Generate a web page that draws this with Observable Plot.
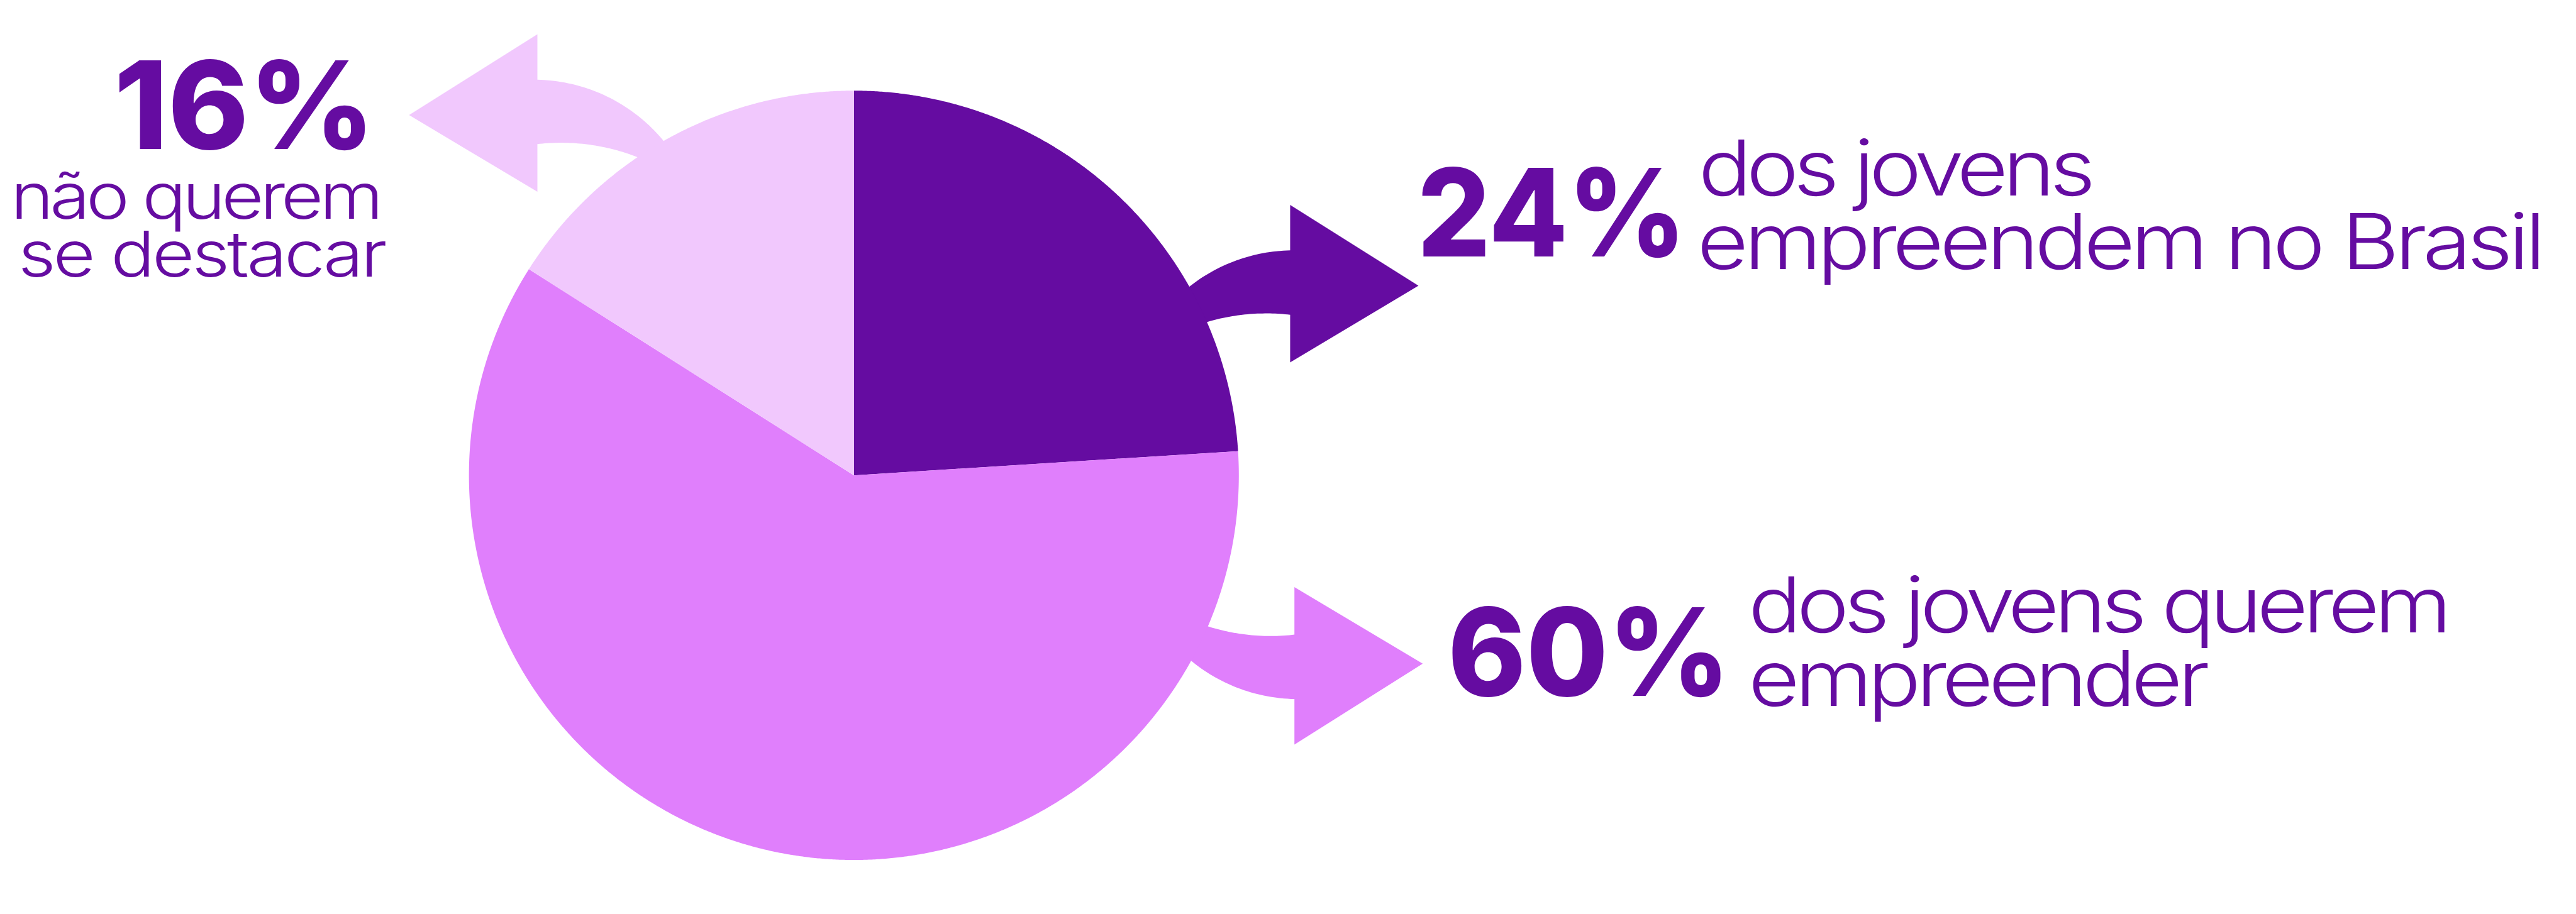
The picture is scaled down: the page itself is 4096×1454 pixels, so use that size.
<!DOCTYPE html>
<html>
<head>
<meta charset="utf-8">
<script src="https://cdn.jsdelivr.net/npm/d3@7"></script>
<script src="https://cdn.jsdelivr.net/npm/@observablehq/plot@0.6"></script>
<style>
  html, body { margin: 0; padding: 0; background: #ffffff; overflow: hidden; }
  #chart svg { display: block; }
</style>
</head>
<body>
<div id="chart"></div>
<script>
// ---------------- DATA ----------------
const categories = ["empreendem", "querem empreender", "não querem se destacar"];
const values = [24, 60, 16];
const percentLabels = ["24%", "60%", "16%"];
const descriptionLines = [
  ["dos jovens", "empreendem no Brasil"],
  ["dos jovens querem", "empreender"],
  ["não querem", "se destacar"]
];

// ---------------- LAYOUT (reference pixel space) ----------------
const REF_W = 4216, REF_H = 1497, W = 4096, H = 1454;
const S = W / REF_W;
const palette = ["#650ca1", "#e07ffc", "#f1c8fd"];
const ink = "#650ca1";
const pieGeom = {cx: 1397, cy: 778, r: 630};
const WIDEN = 1.15;   // glyph widening for the description font (rendered larger, squeezed vertically)

// arrow base (head base centre) relative to pie centre; U = backward direction, V = bend direction
const arrowLayout = [
  {dx: 714, dy: -314, ux: -1, vy: 1},
  {dx: 721, dy: 312, ux: -1, vy: -1},
  {dx: -518, dy: -593.5, ux: 1, vy: 1}
];

const labelLayout = [
  {pct: {x: 2319, y: 420, tl: 440}, size: 126,
   lines: [{x: 2779, y: 320, tl: 650}, {x: 2777, y: 440, tl: 1389}]},
  {pct: {x: 2369, y: 1139, tl: 462}, size: 126,
   lines: [{x: 2861, y: 1035, tl: 1151}, {x: 2861, y: 1156, tl: 755}]},
  {pct: {x: 186, y: 243, tl: 427}, size: 104,
   lines: [{x: 17, y: 358, tl: 610}, {x: 29, y: 453, tl: 604}]}
];
const pctSize = 199;

// ---------------- GEOMETRY ----------------
const slices = d3.pie().sort(null).value(d => d.value)(
  categories.map((c, i) => ({category: c, value: values[i]}))
);

const pieRows = [];
for (const s of slices) {
  const c = s.data.category;
  const n = Math.max(2, Math.ceil((s.endAngle - s.startAngle) / 0.004));
  pieRows.push({category: c, x: pieGeom.cx, y: pieGeom.cy});
  for (let k = 0; k <= n; k++) {
    const a = s.startAngle + (s.endAngle - s.startAngle) * k / n;
    pieRows.push({category: c, x: pieGeom.cx + pieGeom.r * Math.sin(a), y: pieGeom.cy - pieGeom.r * Math.cos(a)});
  }
}

// curved-arrow outline in local (u, v) units
function arrowOutline() {
  const pts = [];
  pts.push([-210, 3.5]);      // tip
  pts.push([0, -129]);        // head corner (outer)
  const oc = {u: -6, v: 221, R: 275.5};
  const t0 = Math.asin((0 - oc.u) / oc.R), t1 = Math.asin((255 - oc.u) / oc.R);
  for (let k = 0; k <= 60; k++) {
    const t = t0 + (t1 - t0) * k / 60;
    pts.push([oc.u + oc.R * Math.sin(t), oc.v - oc.R * Math.cos(t)]);
  }
  const ic = {u: 39, v: 390.4, R: 341.6};
  const s0 = Math.asin((235 - ic.u) / ic.R), s1 = Math.asin((0 - ic.u) / ic.R);
  for (let k = 0; k <= 60; k++) {
    const t = s0 + (s1 - s0) * k / 60;
    pts.push([ic.u + ic.R * Math.sin(t), ic.v - ic.R * Math.cos(t)]);
  }
  pts.push([0, 129]);         // head corner (inner)
  return pts;
}
const outline = arrowOutline();
const arrowRows = [];
categories.forEach((c, i) => {
  const L = arrowLayout[i];
  const bx = pieGeom.cx + L.dx, by = pieGeom.cy + L.dy;
  for (const [u, v] of outline) {
    arrowRows.push({category: c, x: bx + u * L.ux, y: by + v * L.vy});
  }
});

const pctRows = percentLabels.map((t, i) => ({text: t, x: labelLayout[i].pct.x, y: labelLayout[i].pct.y, tl: labelLayout[i].pct.tl}));
const descRows = [];
descriptionLines.forEach((lines, i) => {
  lines.forEach((t, j) => {
    const L = labelLayout[i].lines[j];
    descRows.push({text: t, x: L.x, y: L.y, tl: L.tl, size: labelLayout[i].size});
  });
});

// ---------------- PLOT ----------------
const chart = Plot.plot({
  width: W,
  height: H,
  margin: 0,
  x: {domain: [0, REF_W], range: [0, W], axis: null},
  y: {domain: [0, REF_H], range: [0, H], axis: null},
  color: {domain: categories, range: palette},
  style: {background: "#ffffff", fontFamily: "Inter"},
  marks: [
    Plot.line(arrowRows, {x: "x", y: "y", z: "category", fill: "category", stroke: "none", curve: "linear-closed"}),
    Plot.line(pieRows, {x: "x", y: "y", z: "category", fill: "category", stroke: "none", curve: "linear-closed"}),
    Plot.text(pctRows, {x: "x", y: "y", text: "text", fontSize: pctSize * S, fontWeight: 800, fontFamily: "Inter",
      fill: ink, textAnchor: "start", lineAnchor: "bottom"}),
    Plot.text(descRows, {x: "x", y: "y", text: "text", fontSize: d => d.size * S * WIDEN, fontWeight: 350, fontFamily: "Inter",
      fill: ink, textAnchor: "start", lineAnchor: "bottom"})
  ]
});

document.getElementById("chart").appendChild(chart);

// fit label widths to the reference; squeeze the enlarged description glyphs back to their height
const fit = new Map();
pctRows.forEach(r => fit.set(r.text, {tl: r.tl, adj: "spacingAndGlyphs", ky: 1}));
descRows.forEach(r => fit.set(r.text, {tl: r.tl, adj: "spacing", ky: 1 / WIDEN}));
d3.select(chart).selectAll("text").each(function() {
  const f = fit.get(this.textContent);
  if (!f) return;
  this.setAttribute("textLength", f.tl * S);
  this.setAttribute("lengthAdjust", f.adj);
  if (f.ky !== 1) {
    const tr = this.getAttribute("transform");
    if (tr && !this.hasAttribute("x")) {
      this.setAttribute("transform", `${tr} scale(1,${f.ky})`);
    } else {
      const x = +this.getAttribute("x") || 0, y = +this.getAttribute("y") || 0;
      this.setAttribute("transform", `${tr || ""} translate(${x},${y}) scale(1,${f.ky}) translate(${-x},${-y})`);
    }
  }
});
</script>
</body>
</html>
